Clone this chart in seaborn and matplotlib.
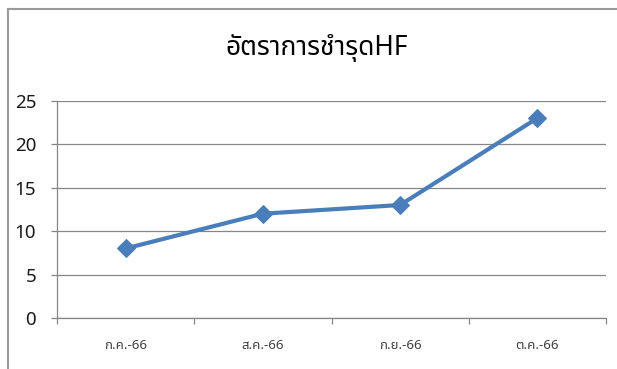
import matplotlib
matplotlib.use("Agg")
import matplotlib.pyplot as plt
from matplotlib import font_manager
from matplotlib.ft2font import FT2Font
import seaborn as sns
import pandas as pd

# Monthly HF damage rate
months = ["ก.ค.-66", "ส.ค.-66", "ก.ย.-66", "ต.ค.-66"]
rates = [8, 12, 13, 23]
y_ticks = [0, 5, 10, 15, 20, 25]
title_text = "อัตราการชำรุดHF"


def find_thai_font():
    """Return the name of an installed font that has Thai glyphs, if any."""
    needed = [ord(c) for c in "อัตราการชำรุดกคสยต"]
    preferred = ["Tahoma", "Leelawadee", "Noto Sans Thai", "Noto Sans Thai UI",
                 "Loma", "Garuda", "Norasi", "Sarabun", "Kinnari", "Umpush",
                 "Waree", "Laksaman", "DejaVu Sans"]
    found = {}
    for path in font_manager.findSystemFonts():
        try:
            cmap = FT2Font(path).get_charmap()
        except Exception:
            continue
        if all(c in cmap for c in needed):
            try:
                name = font_manager.FontProperties(fname=path).get_name()
            except Exception:
                continue
            found.setdefault(name, path)
    for name in preferred:
        if name in found:
            return name
    if found:
        return sorted(found)[0]
    return None


sns.set_theme(style="white")
thai = find_thai_font()
families = ([thai] if thai else []) + ["DejaVu Sans"]
plt.rcParams["font.family"] = families

df = pd.DataFrame({"month": months, "rate": rates})
df["pos"] = range(len(months))

fig = plt.figure(figsize=(6.17, 3.69), dpi=100)
fig.patch.set_facecolor("white")

# Chart frame: a bare background axes showing only its top and left edges
frame = fig.add_axes([7.5 / 617, -0.1, 1.0, 1.1 - 9.5 / 369])
frame.set_axis_off()
frame.patch.set_visible(False)
for side, visible in {"top": True, "left": True,
                      "right": False, "bottom": False}.items():
    frame.spines[side].set_visible(visible)
    frame.spines[side].set_color("#9a9a9a")
    frame.spines[side].set_linewidth(1.5)
frame.axison = True
frame.set_xticks([])
frame.set_yticks([])

ax = fig.add_axes([57 / 617, 51 / 369, 549 / 617, 217.3 / 369])

line_color = "#4A7EBB"
sns.lineplot(data=df, x="pos", y="rate", ax=ax, color=line_color,
             linewidth=3.0, marker="D", markersize=9.5,
             markeredgecolor=line_color, markerfacecolor=line_color)

ax.set_xlim(-0.5, len(months) - 0.5)
ax.set_ylim(0, 25)
ax.set_yticks(y_ticks)
ax.set_yticklabels([str(v) for v in y_ticks], fontsize=13.5, color="#1a1a1a")
ax.set_xticks(range(len(months)))
ax.set_xticklabels(months, fontsize=9.5, color="#404040")
ax.set_xticks([i - 0.5 for i in range(len(months) + 1)], minor=True)
ax.tick_params(axis="x", which="major", length=0, pad=15)
ax.tick_params(axis="x", which="minor", length=4.5, width=0.9,
               color="#868686", bottom=True)
ax.tick_params(axis="y", which="major", length=4, width=0.9,
               color="#868686", left=True, pad=11)
ax.set_xlabel("")
ax.set_ylabel("")

ax.grid(axis="y", color="#868686", linewidth=0.9)
ax.set_axisbelow(True)
for side in ["top", "right"]:
    ax.spines[side].set_visible(False)
for side in ["left", "bottom"]:
    ax.spines[side].set_color("#868686")
    ax.spines[side].set_linewidth(0.9)

fig.text(317 / 617, 1 - 48 / 369, title_text, ha="center", va="center",
         fontsize=19, color="#000000")

fig.savefig("out.png", dpi=100, facecolor="white")
